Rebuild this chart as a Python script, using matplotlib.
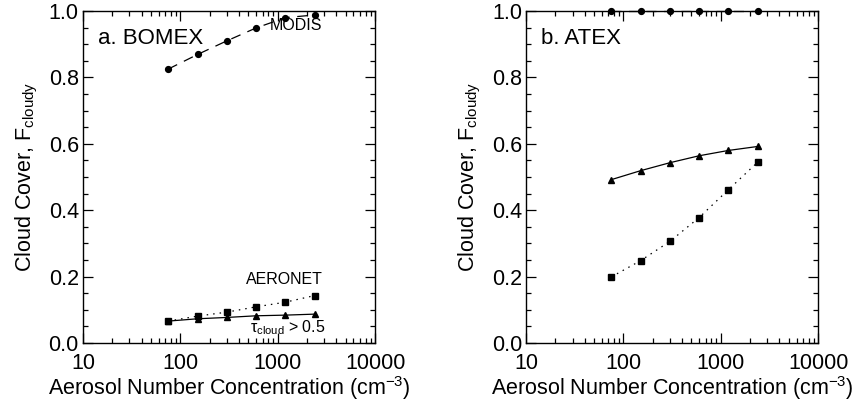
import matplotlib
matplotlib.use("Agg")
import matplotlib.pyplot as plt
from matplotlib.ticker import FixedLocator, LogLocator, NullFormatter, FormatStrFormatter

plt.rcParams['font.family'] = ['Liberation Sans', 'DejaVu Sans']
plt.rcParams['mathtext.fontset'] = 'custom'
plt.rcParams['mathtext.rm'] = 'Liberation Sans'
plt.rcParams['mathtext.it'] = 'Liberation Sans:italic'
plt.rcParams['mathtext.default'] = 'regular'

aerosol = [75, 150, 300, 600, 1200, 2400]

bomex_modis = [0.825, 0.869, 0.910, 0.949, 0.980, 0.988]
bomex_aeronet = [0.066, 0.081, 0.093, 0.109, 0.123, 0.143]
bomex_tau = [0.066, 0.073, 0.077, 0.082, 0.084, 0.087]

atex_modis = [1.0, 1.0, 1.0, 1.0, 1.0, 1.0]
atex_aeronet = [0.199, 0.248, 0.306, 0.378, 0.462, 0.545]
atex_tau = [0.492, 0.519, 0.543, 0.564, 0.580, 0.592]

xticks = [10, 100, 1000, 10000]
xticklabels = ['10', '100', '1000', '10000']
yticks = [0.0, 0.2, 0.4, 0.6, 0.8, 1.0]

fig = plt.figure(figsize=(8.54, 4.01), dpi=100)
ax1 = fig.add_axes([0.0972, 0.1446, 0.342, 0.828])
ax2 = fig.add_axes([0.616, 0.1446, 0.342, 0.828])

FS = 15.5

def style(ax, title):
    ax.set_xscale('log')
    ax.set_xlim(10, 10000)
    ax.set_ylim(0, 1.0)
    ax.set_xticks(xticks)
    ax.set_xticklabels(xticklabels)
    ax.xaxis.set_minor_locator(LogLocator(base=10, subs=range(2, 10), numticks=20))
    ax.xaxis.set_minor_formatter(NullFormatter())
    ax.set_yticks(yticks)
    ax.yaxis.set_major_formatter(FormatStrFormatter('%.1f'))
    ax.yaxis.set_minor_locator(FixedLocator([i * 0.05 for i in range(21)]))
    ax.tick_params(which='both', direction='in', top=True, right=True, labelsize=FS, width=0.9)
    ax.tick_params(which='major', length=7)
    ax.tick_params(axis='x', which='major', pad=7)
    ax.tick_params(axis='y', which='major', pad=3)
    ax.tick_params(which='minor', length=3.5)
    for s in ax.spines.values():
        s.set_linewidth(1.0)
    ax.set_xlabel('Aerosol Number Concentration (cm$^{-3}$)', fontsize=FS, labelpad=0)
    ax.set_ylabel('Cloud Cover, F$_{cloudy}$', fontsize=FS, labelpad=6)
    ax.text(0.05, 0.95, title, transform=ax.transAxes, fontsize=16, va='top', ha='left')

def draw(ax, modis, aeronet, tau):
    ax.plot(aerosol, modis, color='black', lw=0.9, dashes=(8, 6), marker='o', ms=4.2, clip_on=False, zorder=5)
    ax.plot(aerosol, aeronet, color='black', lw=0.9, dashes=(1.2, 4), marker='s', ms=4.2, clip_on=False, zorder=5)
    ax.plot(aerosol, tau, color='black', lw=0.9, ls='-', marker='^', ms=4.2, clip_on=False, zorder=5)

draw(ax1, bomex_modis, bomex_aeronet, bomex_tau)
draw(ax2, atex_modis, atex_aeronet, atex_tau)
style(ax1, 'a. BOMEX')
style(ax2, 'b. ATEX')

ax1.text(830, 0.955, 'MODIS', fontsize=11.5, va='center', ha='left')
ax1.text(2900, 0.19, 'AERONET', fontsize=11.5, va='center', ha='right')
ax1.text(520, 0.045, r'$\tau_{cloud}$ > 0.5', fontsize=11.5, va='center', ha='left')

fig.savefig('out.png', dpi=100)
